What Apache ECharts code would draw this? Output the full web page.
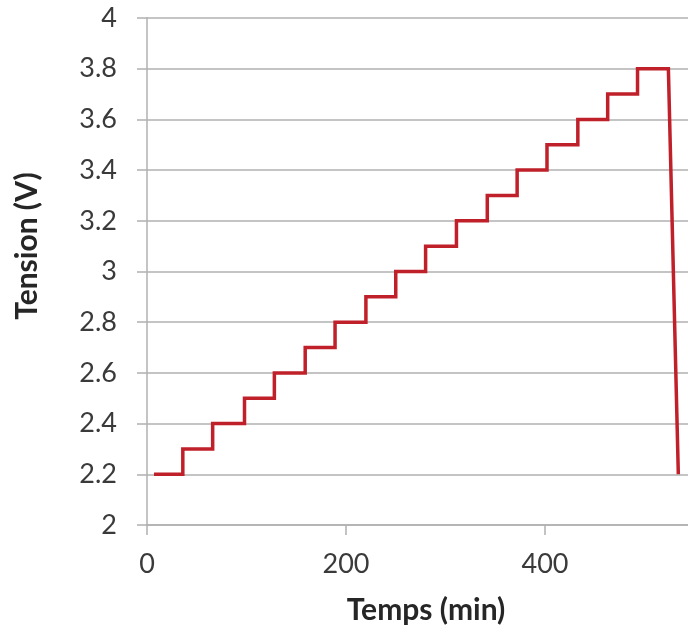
<!DOCTYPE html>
<html>
<head>
<meta charset="utf-8">
<script src="https://cdn.jsdelivr.net/npm/echarts@6/dist/echarts.min.js"></script>
<style>
html,body{margin:0;padding:0;background:#fff;}
#chart{width:688px;height:628px;}
</style>
</head>
<body>
<div id="chart"></div>
<script>
var timeMin = [7,36,36,66,66,98,98,128,128,159,159,189,189,220,220,250,250,280,280,311,311,342,342,372,372,402,402,433,433,463,463,493,493,524,534];
var tension = [2.2,2.2,2.3,2.3,2.4,2.4,2.5,2.5,2.6,2.6,2.7,2.7,2.8,2.8,2.9,2.9,3.0,3.0,3.1,3.1,3.2,3.2,3.3,3.3,3.4,3.4,3.5,3.5,3.6,3.6,3.7,3.7,3.8,3.8,2.2];
var xTitle = 'Temps (min)';
var yTitle = 'Tension (V)';

var pts = timeMin.map(function(t, i){ return [t, tension[i]]; });
var FONT = 'Lato';
var chart = echarts.init(document.getElementById('chart'), null, {renderer:'canvas'});
chart.setOption({
  animation: false,
  backgroundColor: '#ffffff',
  grid: {left: 147, top: 18, height: 507, width: 597, containLabel: false, outerBoundsMode: 'none'},
  xAxis: {
    type: 'value', min: 0, max: 600, interval: 200,
    axisLine: {show: true, lineStyle: {color: '#b0b0b0', width: 1.5}},
    axisTick: {show: true, length: 10, inside: false, lineStyle: {color: '#b0b0b0', width: 1.5}},
    axisLabel: {margin: 26, fontSize: 27, color: '#3a3a3a', fontFamily: FONT},
    splitLine: {show: false}
  },
  yAxis: {
    type: 'value', min: 2, max: 4, interval: 0.2,
    axisLine: {show: true, lineStyle: {color: '#b0b0b0', width: 1.5}},
    axisTick: {show: true, length: 10, inside: false, lineStyle: {color: '#b0b0b0', width: 1.5}},
    axisLabel: {margin: 30, fontSize: 27, color: '#3a3a3a', fontFamily: FONT},
    splitLine: {show: true, lineStyle: {color: '#b0b0b0', width: 1.5}}
  },
  graphic: [
    {type: 'text', x: 426, y: 610, style: {text: xTitle, font: 'bold 30px ' + FONT, fill: '#262626', textAlign: 'center', textVerticalAlign: 'middle'}},
    {type: 'text', rotation: Math.PI/2, x: 27, y: 246, style: {text: yTitle, font: 'bold 30px ' + FONT, fill: '#262626', textAlign: 'center', textVerticalAlign: 'middle'}}
  ],
  series: [{
    type: 'line',
    data: pts,
    showSymbol: false,
    symbol: 'none',
    lineStyle: {color: '#c0202a', width: 3.5, join: 'miter'},
    clip: false
  }]
});
</script>
</body>
</html>
